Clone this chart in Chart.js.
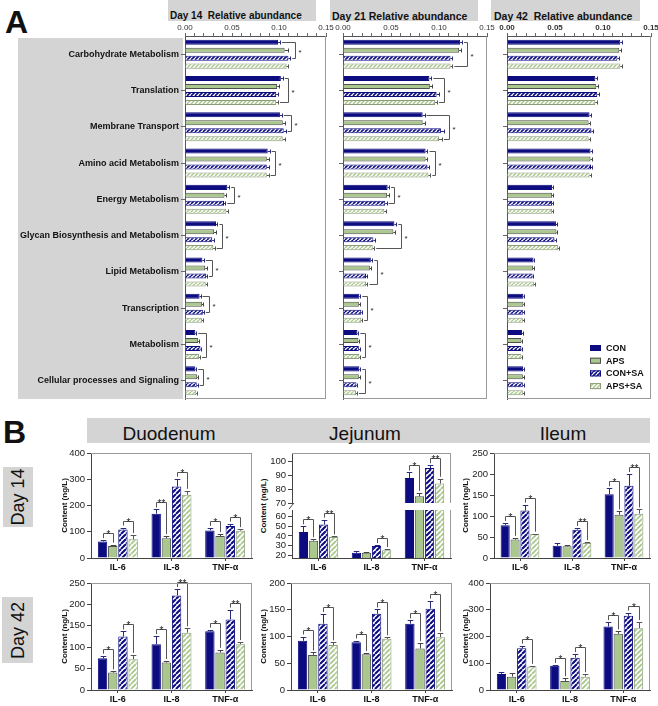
<!DOCTYPE html>
<html>
<head>
<meta charset="utf-8">
<title>Relative abundance and cytokines</title>
<script src="https://cdn.jsdelivr.net/npm/chart.js@4.4.1/dist/chart.umd.min.js"></script>
<style>
  body { margin: 0; background: #fff; }
  #page { position: relative; width: 658px; height: 706px; overflow: hidden; font-family: "Liberation Sans", Arial, sans-serif; color: #111; }
  .gray { position: absolute; background: #d4d4d4; }
  .t { position: absolute; white-space: pre; line-height: 1; }
  .rot { position: absolute; text-align: center; transform: rotate(-90deg); white-space: nowrap; }
  canvas { position: absolute; }
</style>
</head>
<body>
<div id="page">
  <!-- panel A frame -->
  <div class="t" style="left:5px;top:6px;font-size:32px;font-weight:bold">A</div>
  <div class="gray" style="left:18px;top:38px;width:165px;height:361px"></div>
  <div class="gray" style="left:168px;top:0;width:148px;height:21px"></div>
  <div class="gray" style="left:330px;top:0;width:148px;height:21px"></div>
  <div class="gray" style="left:491px;top:0;width:149px;height:21px"></div>
  <div class="t" style="left:170px;top:10.5px;font-size:10px;font-weight:bold">Day 14  Relative abundance</div>
  <div class="t" style="left:332px;top:10.5px;font-size:10.5px;font-weight:bold">Day 21 Relative abundance</div>
  <div class="t" style="left:494px;top:10.5px;font-size:10.5px;font-weight:bold">Day 42  Relative abundance</div>

  <!-- panel B frame -->
  <div class="t" style="left:3px;top:416px;font-size:32px;font-weight:bold">B</div>
  <div class="gray" style="left:87px;top:418px;width:563px;height:25px"></div>
  <div class="t" style="left:89px;width:160px;text-align:center;top:424px;font-size:19px">Duodenum</div>
  <div class="t" style="left:285px;width:160px;text-align:center;top:424px;font-size:19px">Jejunum</div>
  <div class="t" style="left:483px;width:160px;text-align:center;top:424px;font-size:19px">Ileum</div>
  <div class="gray" style="left:3px;top:467px;width:30px;height:60px">
    <div class="rot" style="left:-15px;top:15px;width:60px;height:30px;line-height:30px;font-size:18px">Day 14</div>
  </div>
  <div class="gray" style="left:2px;top:597px;width:31px;height:66px">
    <div class="rot" style="left:-17.5px;top:17.5px;width:66px;height:31px;line-height:31px;font-size:18px">Day 42</div>
  </div>
  <div class="rot" style="left:223.5px;top:501px;width:80px;height:10px;line-height:10px;font-size:8px;font-weight:bold">Content (ng/L)</div>
</div>

<script>
// ---- panel A: relative abundance of KEGG pathways ----
const pathways = ['Carbohydrate Metabolism', 'Translation', 'Membrane Transport', 'Amino acid Metabolism',
  'Energy Metabolism', 'Glycan Biosynthesis and Metabolism', 'Lipid Metabolism', 'Transcription',
  'Metabolism', 'Cellular processes and Signaling'];
const groups = ['CON', 'APS', 'CON+SA', 'APS+SA'];

// rows: CON, APS, CON+SA, APS+SA
const abund14 = [
  [0.099, 0.102, 0.101, 0.088, 0.045, 0.033, 0.0185, 0.0155, 0.011, 0.011],
  [0.106, 0.098, 0.104, 0.087, 0.042, 0.031, 0.0215, 0.018, 0.014, 0.013],
  [0.110, 0.097, 0.105, 0.087, 0.0415, 0.029, 0.0225, 0.019, 0.0165, 0.0125],
  [0.108, 0.097, 0.104, 0.087, 0.044, 0.030, 0.022, 0.018, 0.015, 0.012]
];
const abund14Err = [
  [0.002, 0.002, 0.002, 0.002, 0.002, 0.0015, 0.0015, 0.001, 0.001, 0.001],
  [0.004, 0.002, 0.002, 0.002, 0.002, 0.002, 0.0015, 0.0015, 0.001, 0.001],
  [0.002, 0.002, 0.002, 0.002, 0.0015, 0.0015, 0.001, 0.001, 0.001, 0.001],
  [0.002, 0.002, 0.002, 0.002, 0.0015, 0.0015, 0.001, 0.001, 0.001, 0.001]
];
const abund14Sig = [[0, 0, 2, '*'], [1, 0, 3, '*'], [2, 0, 2, '*'], [3, 0, 3, '*'], [4, 0, 2, '*'],
  [5, 0, 3, '*'], [6, 0, 2, '*'], [7, 0, 2, '*'], [8, 0, 3, '*'], [9, 0, 2, '*']];

const abund21 = [
  [0.122, 0.090, 0.083, 0.086, 0.0465, 0.0535, 0.029, 0.017, 0.015, 0.017],
  [0.121, 0.0905, 0.083, 0.086, 0.046, 0.0525, 0.028, 0.0165, 0.016, 0.0165],
  [0.112, 0.0975, 0.102, 0.088, 0.044, 0.0317, 0.024, 0.019, 0.0165, 0.014],
  [0.112, 0.096, 0.100, 0.089, 0.043, 0.031, 0.024, 0.019, 0.017, 0.0135]
];
const abund21Err = [
  [0.002, 0.002, 0.002, 0.002, 0.0015, 0.002, 0.0015, 0.001, 0.001, 0.001],
  [0.002, 0.002, 0.002, 0.002, 0.0015, 0.002, 0.0015, 0.001, 0.001, 0.001],
  [0.002, 0.002, 0.003, 0.002, 0.0015, 0.0015, 0.0015, 0.001, 0.001, 0.001],
  [0.002, 0.002, 0.003, 0.002, 0.0015, 0.0015, 0.0015, 0.001, 0.001, 0.001]
];
const abund21Sig = [[0, 0, 3, '*'], [1, 0, 3, '*'], [2, 0, 3, '*'], [3, 0, 3, '*'], [4, 0, 2, '*'],
  [5, 0, 3, '*'], [6, 0, 3, '*'], [7, 0, 3, '*'], [8, 0, 3, '*'], [9, 0, 3, '*']];

const abund42 = [
  [0.118, 0.092, 0.086, 0.087, 0.047, 0.051, 0.0276, 0.017, 0.0157, 0.0168],
  [0.117, 0.093, 0.085, 0.087, 0.047, 0.0515, 0.027, 0.017, 0.015, 0.0165],
  [0.115, 0.094, 0.088, 0.0875, 0.047, 0.0495, 0.0266, 0.0165, 0.015, 0.0165],
  [0.118, 0.092, 0.085, 0.086, 0.047, 0.053, 0.028, 0.0165, 0.015, 0.0165]
];
const abund42Err = [
  [0.0015, 0.0015, 0.0015, 0.0015, 0.001, 0.001, 0.001, 0.001, 0.001, 0.001],
  [0.0015, 0.0015, 0.0015, 0.0015, 0.001, 0.001, 0.001, 0.001, 0.001, 0.001],
  [0.0015, 0.0015, 0.0015, 0.0015, 0.001, 0.0015, 0.001, 0.001, 0.001, 0.001],
  [0.0015, 0.0015, 0.0015, 0.0015, 0.001, 0.0015, 0.001, 0.001, 0.001, 0.001]
];

// ---- panel B: cytokine content (ng/L) ----
const cytokines = ['IL-6', 'IL-8', 'TNF-α'];

const duo14 = [[63, 169, 105], [46, 75, 84], [109, 272, 122], [71, 241, 104]];
const duo14Err = [[5, 16, 10], [5, 9, 7], [7, 30, 9], [16, 15, 6]];
const duo14Sig = [[0, 0, 1, '*'], [0, 2, 3, '*'], [1, 0, 1, '**'], [1, 2, 3, '*'], [2, 0, 1, '*'], [2, 2, 3, '*']];

const jej14 = [[44, 22.4, 88], [35, 22.4, 74.8], [52, 29.4, 95.2], [39, 25.2, 84]];
const jej14Err = [[6, 2.1, 4], [1.5, 1.1, 2.5], [5, 1, 2], [0.5, 1.1, 3.5]];
const jej14Sig = [[0, 0, 1, '*'], [0, 2, 3, '**'], [1, 2, 3, '*'], [2, 0, 1, '*'], [2, 2, 3, '**']];

const ile14 = [[78, 29.4, 152], [44, 28, 103], [113, 67.5, 172], [57, 35.7, 105.5]];
const ile14Err = [[5, 6, 14], [4, 2, 8], [14, 4, 28], [1, 2, 10]];
const ile14Sig = [[0, 0, 1, '*'], [0, 2, 3, '*'], [1, 2, 3, '**'], [2, 0, 1, '*'], [2, 2, 3, '**']];

const duo42 = [[74, 107, 137], [40.6, 64, 87.5], [125, 221, 165], [72, 134, 107]];
const duo42Err = [[6, 19, 4], [3, 4, 6.5], [12, 15, 23], [10, 10, 5]];
const duo42Sig = [[0, 0, 1, '*'], [0, 2, 3, '*'], [1, 0, 1, '*'], [1, 2, 3, '**'], [2, 0, 1, '*'], [2, 2, 3, '**']];

const jej42 = [[92, 89.4, 124], [65.6, 67, 77.5], [124, 142.5, 152], [84, 95.6, 98.8]];
const jej42Err = [[8, 3, 6], [4.5, 2, 10], [18, 8, 15], [5, 3, 7]];
const jej42Sig = [[0, 0, 1, '*'], [0, 2, 3, '*'], [1, 0, 1, '*'], [1, 2, 3, '*'], [2, 0, 1, '*'], [2, 2, 3, '*']];

const ile42 = [[60, 91, 237.5], [50, 34, 210], [156, 121, 277.5], [87.5, 50, 231]];
const ile42Err = [[9, 3, 16], [12, 10, 9], [10, 13, 12], [3, 9, 23]];
const ile42Sig = [[0, 2, 3, '*'], [1, 0, 1, '*'], [1, 2, 3, '*'], [2, 0, 1, '*'], [2, 2, 3, '*']];

// ---- drawing ----
const FONT = '"Liberation Sans", Arial, sans-serif';
const NAVY = '#0c0c80';
const GREEN = '#aac88e';
const errColors = ['#2a2a7a', '#444', '#2a2a7a', '#555'];
const PAD = 14;

function tile(color, size, lw) {
  const c = document.createElement('canvas');
  c.width = size; c.height = size;
  const g = c.getContext('2d');
  g.fillStyle = '#fff';
  g.fillRect(0, 0, size, size);
  g.strokeStyle = color;
  g.lineWidth = lw;
  g.beginPath();
  for (let k = -1; k <= 1; k++) {
    g.moveTo(k * size, size);
    g.lineTo(k * size + size, 0);
  }
  g.stroke();
  return c;
}

function groupSets(series, small) {
  const tBlue = tile(NAVY, small ? 4 : 5, small ? 1.6 : 2.1);
  const tGreen = tile(GREEN, small ? 4 : 5, small ? 1.5 : 1.9);
  const sets = [
    { backgroundColor: NAVY, borderColor: NAVY },
    { backgroundColor: GREEN, borderColor: '#4f4f4f' },
    { backgroundColor: c => c.chart.ctx.createPattern(tBlue, 'repeat'), borderColor: NAVY },
    { backgroundColor: c => c.chart.ctx.createPattern(tGreen, 'repeat'), borderColor: '#8d9d7c' }
  ];
  return sets.map((s, i) => Object.assign(s, {
    label: groups[i],
    data: series[i],
    borderWidth: 1,
    borderSkipped: 'start',
    categoryPercentage: small ? 0.88 : 0.76,
    barPercentage: small ? 0.63 : 0.92
  }));
}

// error bars, significance brackets, frame, legend
const marks = {
  id: 'marks',
  afterDatasetsDraw(chart, args, o) {
    const ctx = chart.ctx;
    const horiz = chart.options.indexAxis === 'y';
    const vs = chart.scales[horiz ? 'x' : 'y'];
    const ds = chart.data.datasets;
    const topOf = (i, j) => ds[i].data[j] + (o.errors ? o.errors[i][j] : 0);
    const inRange = v => v >= vs.min && v <= vs.max;
    const area = chart.chartArea;
    ctx.save();
    ctx.lineWidth = 1;

    if (o.errors) {
      ds.forEach((d, i) => {
        chart.getDatasetMeta(i).data.forEach((bar, j) => {
          const v = d.data[j], t = topOf(i, j);
          if (!inRange(v) || !inRange(t)) return;
          const p = Math.round(vs.getPixelForValue(t));
          ctx.strokeStyle = errColors[i];
          ctx.beginPath();
          if (horiz) {
            const cap = bar.height * 0.4;
            const y = Math.round(bar.y) + 0.5;
            ctx.moveTo(bar.x, y); ctx.lineTo(p, y);
            ctx.moveTo(p + 0.5, y - cap); ctx.lineTo(p + 0.5, y + cap);
          } else {
            const cap = bar.width * 0.3;
            const x = Math.round(bar.x) + 0.5;
            ctx.moveTo(x, bar.y); ctx.lineTo(x, p);
            ctx.moveTo(x - cap, p + 0.5); ctx.lineTo(x + cap, p + 0.5);
          }
          ctx.stroke();
        });
      });
    }

    (o.brackets || []).forEach(([j, a, b, lab]) => {
      let hi = -Infinity;
      for (let i = a; i <= b; i++) hi = Math.max(hi, topOf(i, j));
      if (!inRange(topOf(a, j)) || !inRange(topOf(b, j)) || !inRange(hi)) return;
      const ba = chart.getDatasetMeta(a).data[j], bb = chart.getDatasetMeta(b).data[j];
      const pa = vs.getPixelForValue(topOf(a, j)), pb = vs.getPixelForValue(topOf(b, j));
      const ph = Math.round(vs.getPixelForValue(hi));
      ctx.strokeStyle = '#555';
      ctx.fillStyle = '#222';
      ctx.beginPath();
      if (horiz) {
        const xr = ph + 5.5;
        const ya = Math.round(ba.y) + 0.5, yb = Math.round(bb.y) + 0.5;
        ctx.moveTo(pa + 2, ya); ctx.lineTo(xr, ya); ctx.lineTo(xr, yb); ctx.lineTo(pb + 2, yb);
        ctx.stroke();
        ctx.font = '8px ' + FONT;
        ctx.textAlign = 'left';
        ctx.textBaseline = 'middle';
        ctx.fillText(lab, xr + 3, (ya + yb) / 2 + 2);
      } else {
        const yt = ph - 6.5;
        const xa = Math.round(ba.x) + 0.5, xb = Math.round(bb.x) + 0.5;
        ctx.moveTo(xa, pa - 2); ctx.lineTo(xa, yt); ctx.lineTo(xb, yt); ctx.lineTo(xb, pb - 2);
        ctx.stroke();
        ctx.font = '10px ' + FONT;
        ctx.textAlign = 'center';
        ctx.textBaseline = 'alphabetic';
        ctx.fillText(lab, (xa + xb) / 2, yt + 4);
      }
    });

    if (o.frame) {
      ctx.strokeStyle = '#9a9a9a';
      ctx.beginPath();
      if (o.frame.includes('t')) { ctx.moveTo(area.left, area.top + 0.5); ctx.lineTo(area.right, area.top + 0.5); }
      if (o.frame.includes('r')) { ctx.moveTo(area.right - 0.5, area.top); ctx.lineTo(area.right - 0.5, area.bottom); }
      if (o.frame.includes('b')) { ctx.moveTo(area.left, area.bottom - 0.5); ctx.lineTo(area.right, area.bottom - 0.5); }
      ctx.stroke();
    }

    if (o.breakMark) {
      ctx.strokeStyle = '#444';
      ctx.beginPath();
      ctx.moveTo(area.left - 3, area.top - 1);
      ctx.lineTo(area.left + 2, area.top - 7);
      ctx.stroke();
    }

    if (o.legend) {
      ds.forEach((d, i) => {
        const x = area.right - 61;
        const y = area.bottom - 51 + i * 12.7;
        ctx.fillStyle = typeof d.backgroundColor === 'function' ? d.backgroundColor({ chart }) : d.backgroundColor;
        ctx.fillRect(x, y - 3, 11, 6);
        ctx.strokeStyle = d.borderColor;
        ctx.strokeRect(x + 0.5, y - 2.5, 10, 5);
        ctx.fillStyle = '#111';
        ctx.font = 'bold 9px ' + FONT;
        ctx.textAlign = 'left';
        ctx.textBaseline = 'middle';
        ctx.fillText(d.label, x + 16, y + 0.5);
      });
    }
    ctx.restore();
  }
};

function canvasFor(plot, axL, axT, axB) {
  const c = document.createElement('canvas');
  c.width = plot[2] - plot[0] + axL + 2 * PAD;
  c.height = plot[3] - plot[1] + axT + axB + 2 * PAD;
  c.style.left = (plot[0] - axL - PAD) + 'px';
  c.style.top = (plot[1] - axT - PAD) + 'px';
  document.getElementById('page').appendChild(c);
  return c;
}

function abundance(plot, series, errs, sig, o) {
  const axL = o.labels ? 172 : 8;
  const cv = canvasFor(plot, axL, 14, 0);
  return new Chart(cv, {
    type: 'bar',
    data: { labels: pathways, datasets: groupSets(series, true) },
    options: {
      indexAxis: 'y',
      responsive: false,
      animation: false,
      layout: { padding: PAD },
      plugins: {
        legend: { display: false },
        tooltip: { enabled: false },
        marks: { errors: errs, brackets: sig, legend: o.legend, frame: 'rb' }
      },
      scales: {
        x: {
          position: 'top', min: 0, max: 0.15,
          ticks: {
            stepSize: 0.01, autoSkip: false, maxRotation: 0, padding: 0, color: '#333',
            font: { family: FONT, size: 8, weight: o.boldTicks ? 'bold' : 'normal' },
            callback: v => Math.round(v * 100) % 5 === 0 ? v.toFixed(2) : ''
          },
          grid: { drawOnChartArea: false, tickLength: 3, color: '#666' },
          border: { color: '#555' },
          afterFit: s => { s.height = 14; }
        },
        y: {
          ticks: { display: !!o.labels, autoSkip: false, padding: 2, color: '#111', font: { family: FONT, size: 9, weight: 'bold' } },
          grid: { drawOnChartArea: false, offset: false, tickLength: 4, color: '#666' },
          border: { color: '#555' },
          afterFit: s => { s.width = axL; }
        }
      }
    },
    plugins: [marks]
  });
}

function cytokine(plot, series, errs, sig, o) {
  const axB = o.xAxis === false ? 0 : 14;
  const cv = canvasFor(plot, o.axL, 0, axB);
  return new Chart(cv, {
    type: 'bar',
    data: { labels: cytokines, datasets: groupSets(series, false) },
    options: {
      responsive: false,
      animation: false,
      layout: { padding: PAD },
      plugins: {
        legend: { display: false },
        tooltip: { enabled: false },
        marks: { errors: errs, brackets: sig, frame: o.frame, breakMark: o.breakMark }
      },
      scales: {
        x: {
          display: o.xAxis !== false,
          ticks: { padding: 1, color: '#111', font: { family: FONT, size: 9, weight: 'bold' } },
          grid: { drawOnChartArea: false, offset: false, tickLength: 3, color: '#444' },
          border: { color: '#444' },
          afterFit: s => { s.height = axB; }
        },
        y: {
          min: o.min, max: o.max,
          ticks: { stepSize: o.step, autoSkip: false, padding: 2, color: '#222', font: { family: FONT, size: 9.5 } },
          grid: { drawOnChartArea: false, tickLength: 4, color: '#444' },
          border: { color: '#444' },
          title: { display: o.title !== false, text: 'Content (ng/L)', padding: 0, color: '#111', font: { family: FONT, size: 8, weight: 'bold' } },
          // keep only round multiples of the step inside the (possibly broken) range
          afterBuildTicks: s => {
            const out = [];
            for (let v = Math.ceil(o.min / o.step) * o.step; v <= o.max + 1e-9; v += o.step) out.push({ value: v });
            s.ticks = out;
          },
          afterFit: s => { s.width = o.axL; }
        }
      }
    },
    plugins: [marks]
  });
}

// panel A
abundance([185, 36, 326, 399], abund14, abund14Err, abund14Sig, { labels: true });
abundance([343, 36, 487, 399], abund21, abund21Err, abund21Sig, {});
abundance([507, 36, 651, 399], abund42, abund42Err, [], { legend: true, boldTicks: true });

// panel B, day 14
cytokine([91, 453, 252, 558], duo14, duo14Err, duo14Sig, { min: 0, max: 400, step: 100, axL: 31, frame: 'tr' });
cytokine([292, 453, 451, 503], jej14, jej14Err, jej14Sig, { min: 70, max: 106, step: 10, axL: 32, frame: 'tr', xAxis: false, title: false });
cytokine([292, 510, 451, 558], jej14, jej14Err, jej14Sig, { min: 17, max: 67, step: 10, axL: 32, frame: 'r', title: false, breakMark: true });
cytokine([494, 453, 650, 558], ile14, ile14Err, ile14Sig, { min: 0, max: 250, step: 50, axL: 33, frame: 'tr' });

// panel B, day 42
cytokine([91, 583, 252, 690], duo42, duo42Err, duo42Sig, { min: 0, max: 250, step: 50, axL: 31, frame: 'tr' });
cytokine([291, 583, 452, 690], jej42, jej42Err, jej42Sig, { min: 0, max: 200, step: 50, axL: 32, frame: 'tr' });
cytokine([490, 583, 650, 690], ile42, ile42Err, ile42Sig, { min: 0, max: 400, step: 100, axL: 29, frame: 'tr' });
</script>
</body>
</html>
